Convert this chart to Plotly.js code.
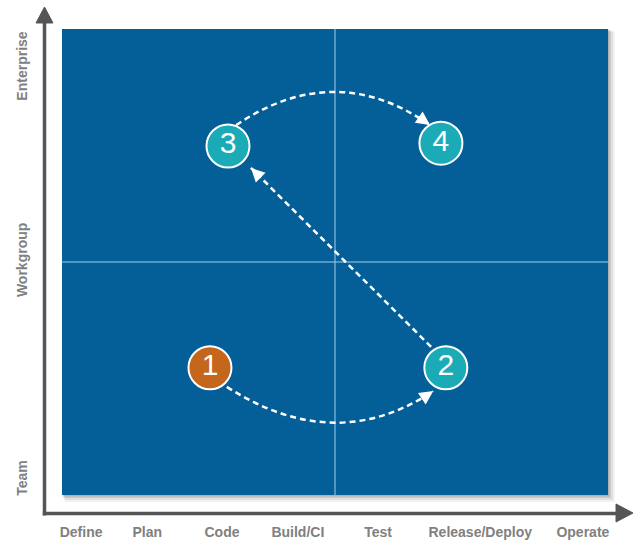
<!DOCTYPE html>
<html>
<head>
<meta charset="utf-8">
<script src="https://cdn.plot.ly/plotly-3.0.1.min.js"></script>
<style>
  html, body { margin: 0; padding: 0; background: #ffffff; }
  #chart { width: 634px; height: 543px; }
</style>
</head>
<body>
<div id="chart"></div>
<script>
// Lifecycle stages along the horizontal axis (position on a 0–10 scale)
const stages = ['Define', 'Plan', 'Code', 'Build/CI', 'Test', 'Release/Deploy', 'Operate'];
const stageX = [0.35, 1.56, 2.93, 4.32, 5.79, 7.66, 9.54];

// Organisational scope along the vertical axis (0–10 scale)
const scopes = ['Team', 'Workgroup', 'Enterprise'];
const scopeY = [0.32, 5.0, 9.16];

// Numbered steps of the journey
const stepLabels = ['1', '2', '3', '4'];
const stepX = [2.71, 7.03, 3.04, 6.94];
const stepY = [2.73, 2.73, 7.49, 7.55];
const stepColors = ['#c4661c', '#1aabb6', '#1aabb6', '#1aabb6'];

// Dashed connectors: start, bend (control point) and arrow tip
const connStart = [[3.02, 2.32], [6.76, 3.18], [3.19, 7.94]];
const connBend  = [[5.0, 0.83], null, [5.0, 9.36]];
const connEnd   = [[6.80, 2.23], [3.46, 7.02], [6.74, 7.94]];

const BLUE = '#045e97';
const AXIS_GREY = '#555555';
const LABEL_GREY = '#808080';

const shapes = [];

// soft drop shadow behind the quadrant panel
const px = 1 / 546, py = 1 / 466;
[[7, 0.05], [5, 0.07], [3, 0.09], [1.5, 0.12]].forEach(([o, a]) => {
  shapes.push({
    type: 'rect', xref: 'paper', yref: 'paper', layer: 'below',
    x0: 0 + o * px * 0.4, x1: 1 + o * px, y0: 0 - o * py, y1: 1 - o * py * 0.4,
    fillcolor: `rgba(0,0,0,${a})`, line: { width: 0 }
  });
});

// quadrant panel
shapes.push({
  type: 'rect', xref: 'paper', yref: 'paper', layer: 'below',
  x0: 0, x1: 1, y0: 0, y1: 1, fillcolor: BLUE, line: { width: 0 }
});

// quadrant dividers
shapes.push({ type: 'line', xref: 'paper', yref: 'paper', x0: 0.5, x1: 0.5, y0: 0, y1: 1,
  line: { color: 'rgba(150,195,225,0.75)', width: 1.5 }, layer: 'below' });
shapes.push({ type: 'line', xref: 'paper', yref: 'paper', x0: 0, x1: 1, y0: 0.5, y1: 0.5,
  line: { color: 'rgba(150,195,225,0.75)', width: 1.5 }, layer: 'below' });

// axis arrows
shapes.push({ type: 'line', xref: 'paper', yref: 'paper',
  x0: -0.03205, x1: -0.03205, y0: -0.0440, y1: 1.0130,
  line: { color: AXIS_GREY, width: 3.5 } });
shapes.push({ type: 'path', xref: 'paper', yref: 'paper',
  path: 'M -0.0476 1.0129 L -0.0165 1.0129 L -0.03205 1.0472 Z',
  fillcolor: AXIS_GREY, line: { color: AXIS_GREY, width: 1 } });
shapes.push({ type: 'line', xref: 'paper', yref: 'paper',
  x0: -0.0352, x1: 1.0150, y0: -0.0397, y1: -0.0397,
  line: { color: AXIS_GREY, width: 3.5 } });
shapes.push({ type: 'path', xref: 'paper', yref: 'paper',
  path: 'M 1.0147 -0.0193 L 1.0147 -0.0579 L 1.0458 -0.0386 Z',
  fillcolor: AXIS_GREY, line: { color: AXIS_GREY, width: 1 } });

// dashed connectors between steps
const annotations = [];
connStart.forEach((s, i) => {
  const e = connEnd[i], b = connBend[i];
  const path = b
    ? `M ${s[0]} ${s[1]} Q ${b[0]} ${b[1]} ${e[0]} ${e[1]}`
    : `M ${s[0]} ${s[1]} L ${e[0]} ${e[1]}`;
  shapes.push({ type: 'path', xref: 'x', yref: 'y', path: path,
    line: { color: '#ffffff', width: 2.5, dash: '6px,4px' } });
  // arrow head aligned with the end tangent
  const from = b || s;
  const dx = e[0] - from[0], dy = e[1] - from[1];
  const len = Math.hypot(dx * 54.6, dy * 46.6);
  const k = 6 / len;
  annotations.push({
    x: e[0], y: e[1], ax: e[0] - dx * k, ay: e[1] - dy * k,
    xref: 'x', yref: 'y', axref: 'x', ayref: 'y', text: '',
    showarrow: true, arrowhead: 2, arrowsize: 1.1, arrowwidth: 2.5, arrowcolor: '#ffffff'
  });
});

const trace = {
  type: 'scatter', mode: 'markers+text',
  x: stepX, y: stepY, text: stepLabels,
  textposition: 'middle center',
  textfont: { family: 'Liberation Sans, Arial, sans-serif', size: 30, color: '#ffffff' },
  marker: { size: 43, color: stepColors, line: { color: '#ffffff', width: 2 } },
  hoverinfo: 'skip', cliponaxis: false
};

const layout = {
  width: 634, height: 543,
  margin: { l: 62, r: 26, t: 29, b: 48, pad: 0 },
  paper_bgcolor: '#ffffff', plot_bgcolor: 'rgba(0,0,0,0)',
  showlegend: false,
  xaxis: {
    range: [0, 10], tickmode: 'array', tickvals: stageX, ticktext: stages,
    showgrid: false, zeroline: false, showline: false,
    ticks: 'outside', ticklen: 24, tickcolor: 'rgba(0,0,0,0)',
    tickfont: { family: 'Liberation Sans, Arial, sans-serif', size: 14, color: LABEL_GREY, weight: 'bold' },
    fixedrange: true, automargin: false
  },
  yaxis: {
    range: [0, 10], tickmode: 'array', tickvals: scopeY, ticktext: scopes,
    tickangle: -90,
    showgrid: false, zeroline: false, showline: false,
    ticks: 'outside', ticklen: 28, tickcolor: 'rgba(0,0,0,0)',
    tickfont: { family: 'Liberation Sans, Arial, sans-serif', size: 14, color: LABEL_GREY, weight: 'bold' },
    fixedrange: true, automargin: false
  },
  shapes: shapes,
  annotations: annotations
};

Plotly.newPlot('chart', [trace], layout, { displayModeBar: false, staticPlot: true });
</script>
</body>
</html>
